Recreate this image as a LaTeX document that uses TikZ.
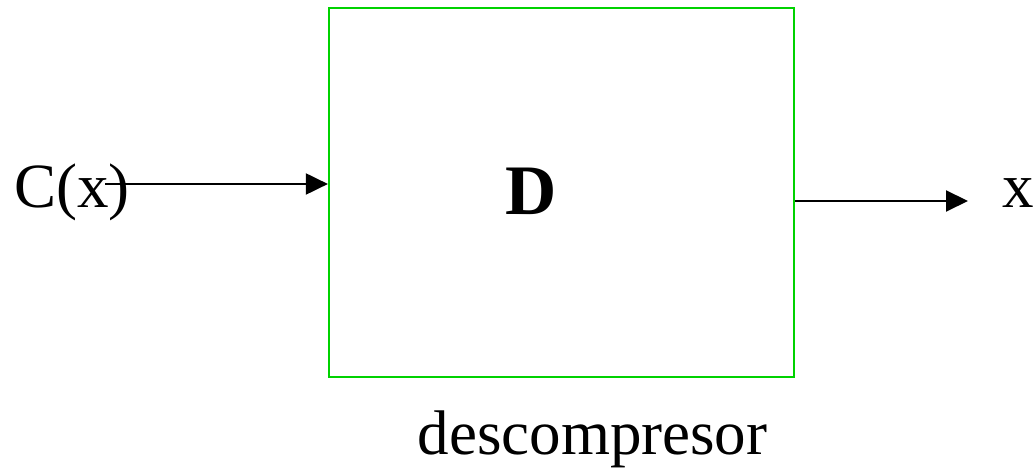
\documentclass[tikz,border=0pt]{standalone}
\usepackage{fontspec}
\setmainfont{Liberation Serif}
\usetikzlibrary{positioning, calc, arrows.meta}
\definecolor{boxgreen}{RGB}{0,210,0}

\begin{document}
\begin{tikzpicture}[x=1pt, y=1pt,
    bloque/.style={draw=boxgreen, line width=2.2pt, minimum width=465pt, minimum height=369pt, inner sep=0pt},
    etiq/.style={inner sep=0pt, anchor=base, font=\fontsize{63}{70}\selectfont},
    flecha/.style={line width=2pt, -{Triangle[length=22pt, width=21pt]}}]
      \useasboundingbox (0,0) rectangle (1035,476);
      % bloque descompresor
      \node[bloque] (dec) at (561.5,283.5) {};
      \node[inner sep=0pt, anchor=base, font=\fontsize{71}{78}\selectfont\bfseries] (letra) at (531,261) {D};
      % entrada y salida
      \node[etiq, anchor=base west] (entrada) at (14,268) {C(x)};
      \node[etiq, anchor=base west] (salida) at (1002,268) {x};
      \coordinate (ini) at (105,292);
      \coordinate (fin) at (968,275);
      \draw[flecha] (ini) -- (ini -| dec.west);
      \draw[flecha] (fin -| dec.east) -- (fin);
      %label
      \node[etiq] (nombre) at (592.5,21) {descompresor};
    \end{tikzpicture}
\end{document}
